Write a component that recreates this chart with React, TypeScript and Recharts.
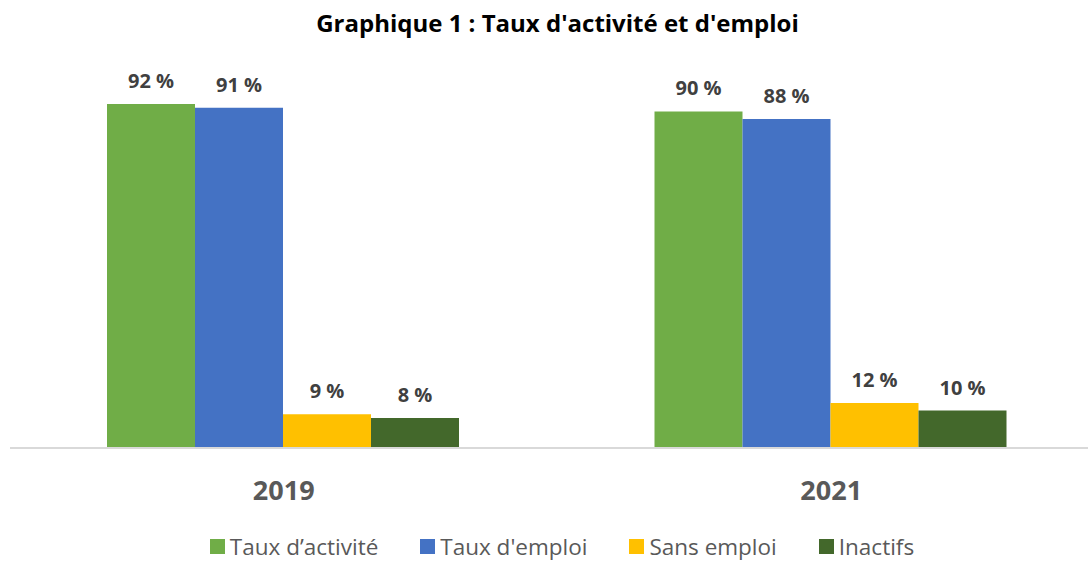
import { Bar, BarChart, LabelList, Legend, XAxis, YAxis } from "recharts";

const years = ["2019", "2021"];
const activite = [92, 90];
const emploi = [91, 88];
const sansEmploi = [9, 12];
const inactifs = [8, 10];

const series = [
  { key: "activite", name: "Taux d’activité", color: "#70AD47" },
  { key: "emploi", name: "Taux d'emploi", color: "#4472C4" },
  { key: "sansEmploi", name: "Sans emploi", color: "#FFC000" },
  { key: "inactifs", name: "Inactifs", color: "#43682B" },
];

const data = years.map((y, i) => ({
  year: y,
  activite: activite[i],
  emploi: emploi[i],
  sansEmploi: sansEmploi[i],
  inactifs: inactifs[i],
}));

const FONT = "'Open Sans', sans-serif";

function YearTick({ x, y, payload }: any) {
  return (
    <text x={x} y={y + 52} textAnchor="middle" fill="#595959" fontSize={27} fontWeight={700} fontFamily={FONT}>
      {payload.value}
    </text>
  );
}

function LegendBox() {
  return (
    <div style={{ display: "flex", justifyContent: "center", alignItems: "center", height: 30, fontFamily: FONT, fontSize: 22.5, color: "#595959" }}>
      {series.map((s) => (
        <div key={s.key} style={{ display: "flex", alignItems: "center", margin: "0 21px" }}>
          <span style={{ width: 15, height: 15, background: s.color, marginRight: 5, display: "inline-block" }} />
          <span>{s.name}</span>
        </div>
      ))}
    </div>
  );
}

export default function App() {
  return (
    <div style={{ position: "absolute", left: 0, top: 0, width: 1088, height: 561, overflow: "hidden", background: "#fff" }}>
      <div
        style={{
          position: "absolute",
          top: 11,
          left: 27,
          width: 1061,
          textAlign: "center",
          fontFamily: FONT,
          fontWeight: 700,
          fontSize: 24,
          lineHeight: "24px",
          color: "#000",
        }}
      >
        Graphique 1 : Taux d'activité et d'emploi
      </div>
      <BarChart
        width={1105}
        height={561}
        data={data}
        margin={{ top: 74, right: 0, left: 10, bottom: 43 }}
        barCategoryGap={97}
        barGap={0}
      >
        <XAxis
          dataKey="year"
          height={40}
          tickLine={false}
          tickSize={0}
          tickMargin={0}
          axisLine={{ stroke: "#d9d9d9", strokeWidth: 2 }}
          tick={<YearTick />}
        />
        <YAxis hide domain={[0, 100]} />
        <Legend
          content={<LegendBox />}
          verticalAlign="bottom"
          wrapperStyle={{ left: 18, width: 1088, bottom: 0 }}
        />
        {series.map((s) => (
          <Bar key={s.key} dataKey={s.key} name={s.name} fill={s.color} isAnimationActive={false}>
            <LabelList
              dataKey={s.key}
              position="top"
              offset={16}
              formatter={(v: any) => `${v} %`}
              style={{ fill: "#404040", fontSize: 20, fontWeight: 700, fontFamily: FONT }}
            />
          </Bar>
        ))}
      </BarChart>
    </div>
  );
}
